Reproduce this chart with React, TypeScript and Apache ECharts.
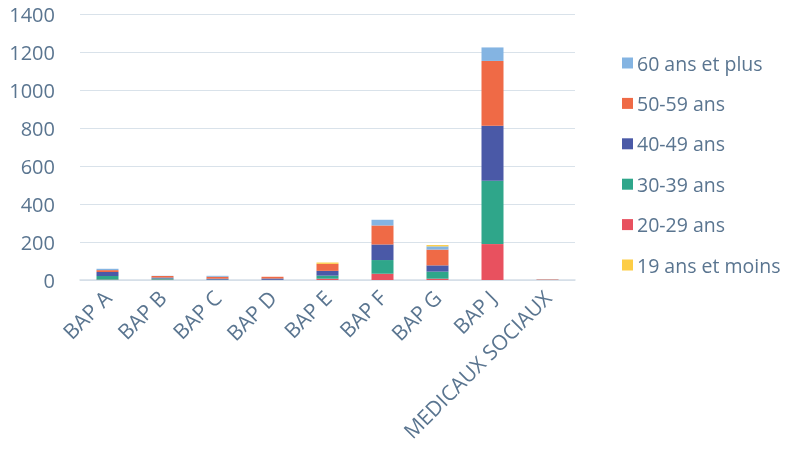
import React, { useEffect, useRef } from "react";
import * as echarts from "echarts";

const categories = ["BAP A", "BAP B", "BAP C", "BAP D", "BAP E", "BAP F", "BAP G", "BAP J", "MEDICAUX SOCIAUX"];
const seriesNames = ["60 ans et plus", "50-59 ans", "40-49 ans", "30-39 ans", "20-29 ans", "19 ans et moins"];
const v60plus = [7, 1, 5, 0, 0, 30, 17, 71, 0];
const v50_59 = [10, 8, 10, 9, 37, 100, 83, 341, 2];
const v40_49 = [21, 5, 5, 7, 25, 82, 33, 290, 1];
const v30_39 = [19, 6, 2, 1, 16, 72, 37, 333, 0];
const v20_29 = [2, 2, 0, 0, 7, 33, 7, 189, 0];
const v19moins = [0, 0, 0, 0, 7, 0, 7, 0, 0];
const colors: Record<string, string> = {
  "60 ans et plus": "#84b4e2",
  "50-59 ans": "#ef6a46",
  "40-49 ans": "#4a59a7",
  "30-39 ans": "#2fa68a",
  "20-29 ans": "#e8515f",
  "19 ans et moins": "#fdcd45",
};

export default function App() {
  const ref = useRef<HTMLDivElement>(null);
  useEffect(() => {
    if (!ref.current) return;
    const chart = echarts.init(ref.current, undefined, { renderer: "svg" });
    const stackOrder: [string, number[]][] = [
      ["20-29 ans", v20_29],
      ["30-39 ans", v30_39],
      ["40-49 ans", v40_49],
      ["50-59 ans", v50_59],
      ["60 ans et plus", v60plus],
      ["19 ans et moins", v19moins],
    ];
    const textColor = "#5a7590";
    const font = "Open Sans";
    chart.setOption({
      animation: false,
      textStyle: { fontFamily: font },
      grid: { left: 80, right: 211, top: 14, bottom: 175 },
      legend: {
        orient: "vertical",
        left: 617,
        top: 46,
        data: seriesNames,
        itemWidth: 11,
        itemHeight: 11,
        itemGap: 16.4,
        icon: "rect",
        textStyle: { color: textColor, fontSize: 19.5, fontFamily: font, lineHeight: 24, padding: [0, 0, 0, -1] },
      },
      xAxis: {
        type: "category",
        data: categories,
        axisLine: { lineStyle: { color: "#d5dee7", width: 1.5 } },
        axisTick: { show: false },
        axisLabel: { rotate: 45, color: textColor, fontSize: 21, margin: 14, interval: 0, fontFamily: font },
      },
      yAxis: {
        type: "value",
        min: 0,
        max: 1400,
        interval: 200,
        axisLine: { show: false },
        axisTick: { show: false },
        splitLine: { lineStyle: { color: "#d9e2ea", width: 1.2 } },
        axisLabel: { color: textColor, fontSize: 20, margin: 25, fontFamily: font, formatter: (v: number) => String(v) },
      },
      series: stackOrder.map(([name, data]) => ({
        name,
        type: "bar",
        stack: "total",
        data,
        barWidth: "40%",
        itemStyle: { color: colors[name] },
      })),
    });
    return () => chart.dispose();
  }, []);
  return <div ref={ref} style={{ position: "fixed", left: 0, top: 0, width: 786, height: 455 }} />;
}
